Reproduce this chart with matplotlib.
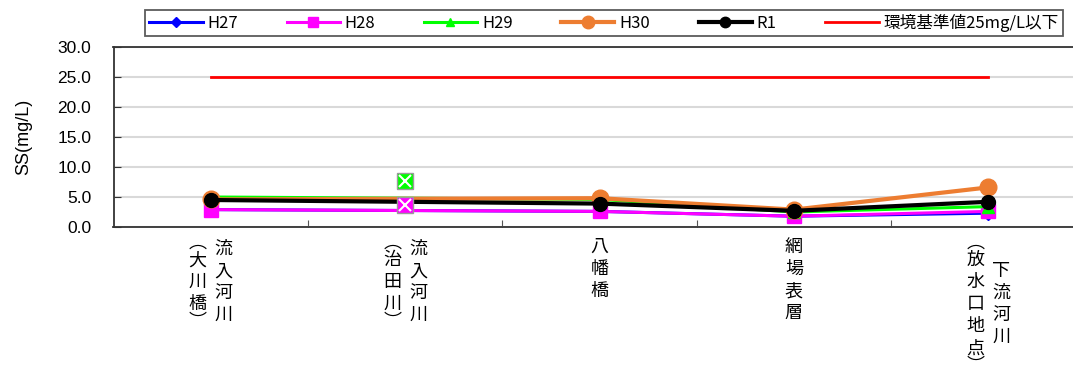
import matplotlib
matplotlib.use("Agg")
import matplotlib.pyplot as plt
from matplotlib.lines import Line2D

plt.rcParams['font.family'] = ['Liberation Sans', 'Noto Sans CJK JP', 'DejaVu Sans']

# station labels: each label is a list of vertical columns, right column first
stations = [
    ["流入河川", "︵大川橋︶"],
    ["流入河川", "︵治田川︶"],
    ["八幡橋"],
    ["網場表層"],
    ["下流河川", "︵放水口地点︶"],
]

# yearly series (station 2 has no value on the lines)
h27 = [2.9, None, 2.6, 1.8, 2.3]
h28 = [2.9, None, 2.6, 1.8, 2.6]
h29 = [5.0, None, 4.6, 2.5, 3.4]
h30 = [4.6, None, 4.8, 2.9, 6.6]
r1 = [4.5, None, 3.9, 2.7, 4.2]

# separate points shown at station 2
extra_station = 1
extra_h28 = 3.7
extra_h29 = 7.7

standard = 25
y_ticks = [0, 5, 10, 15, 20, 25, 30]

series = [
    ("H27", h27, "#0000ff", "D", 7, 2.2),
    ("H28", h28, "#ff00ff", "s", 10, 2.2),
    ("H29", h29, "#00ff00", "^", 8, 2.2),
    ("H30", h30, "#ed7d31", "o", 12, 3.0),
    ("R1", r1, "#000000", "o", 10, 3.0),
]

W, H = 1073, 374
fig = plt.figure(figsize=(W / 100, H / 100), dpi=100)
ax = fig.add_axes([113.5 / W, 1 - 227 / H, 972 / W, 180 / H])

handles = []
for name, vals, color, marker, ms, lw in series:
    xs = [i for i, v in enumerate(vals) if v is not None]
    ys = [v for v in vals if v is not None]
    ax.plot(xs, ys, color=color, marker=marker, markersize=ms, linewidth=lw,
            markeredgecolor=color, zorder=3)
    handles.append(Line2D([], [], color=color, marker=marker, markersize=ms * 0.75,
                          linewidth=lw))

# boxed markers at station 2
for val, color in [(extra_h28, "#ff00ff"), (extra_h29, "#00ff00")]:
    ax.plot([extra_station], [val], marker="s", markersize=11, color=color,
            markeredgecolor="#9a9a9a", markeredgewidth=1, zorder=5)
    ax.plot([extra_station], [val], marker="x", markersize=9, color="white",
            markeredgewidth=1.5, zorder=6)

ax.plot([0, len(stations) - 1], [standard, standard], color="#ff0000", linewidth=2, zorder=3)
handles.append(Line2D([], [], color="#ff0000", linewidth=2))

ax.set_xlim(-0.5, len(stations) - 0.5)
ax.set_ylim(0, 30)
ax.set_yticks(y_ticks)
ax.set_yticklabels([f"{t:.1f}" for t in y_ticks], fontsize=12.5)
ax.yaxis.grid(True, color="#d9d9d9", linewidth=1.5)
ax.set_axisbelow(True)
ax.set_xticks([i + 0.5 for i in range(len(stations) - 1)])
ax.set_xticklabels([])
ax.tick_params(axis="x", direction="in", length=5, color="#555555")
ax.tick_params(axis="y", direction="in", length=5, pad=16, color="#333333")
for s in ax.spines.values():
    s.set_color("#333333")
    s.set_linewidth(1.3)
ax.set_ylabel("SS(mg/L)", fontsize=13, labelpad=18)

# vertical Japanese labels
px = 72 / 100
step = 22
for i, cols in enumerate(stations):
    units = [[0.6 if c in "︵︶" else 1.0 for c in col] for col in cols]
    block = max(sum(u) for u in units)
    center = 9 + block * step / 2
    ncol = len(cols)
    for j, (col, u) in enumerate(zip(cols, units)):
        xoff = (ncol - 1) / 2 * 26 - j * 26
        top = center - sum(u) * step / 2
        y = top
        for c, uu in zip(col, u):
            yc = y + uu * step / 2
            ax.annotate(c, xy=(i, 0), xycoords=("data", "axes fraction"),
                        xytext=(xoff * px, -yc * px), textcoords="offset points",
                        ha="center", va="center", fontsize=13,
                        family=["Noto Sans CJK JP", "DejaVu Sans"])
            y += uu * step

labels = [s[0] for s in series] + ["環境基準値25mg/L以下"]
leg = fig.legend(handles, labels, loc="center", bbox_to_anchor=(604 / W, 1 - 23 / H),
                 ncol=6, frameon=True, fancybox=False, edgecolor="#333333",
                 handlelength=3.2, handletextpad=0.3, columnspacing=2.9,
                 borderpad=0.25, prop={"family": ["Noto Sans CJK JP", "DejaVu Sans"], "size": 12})
leg.get_frame().set_linewidth(1.3)

fig.savefig("out.png", dpi=100)
